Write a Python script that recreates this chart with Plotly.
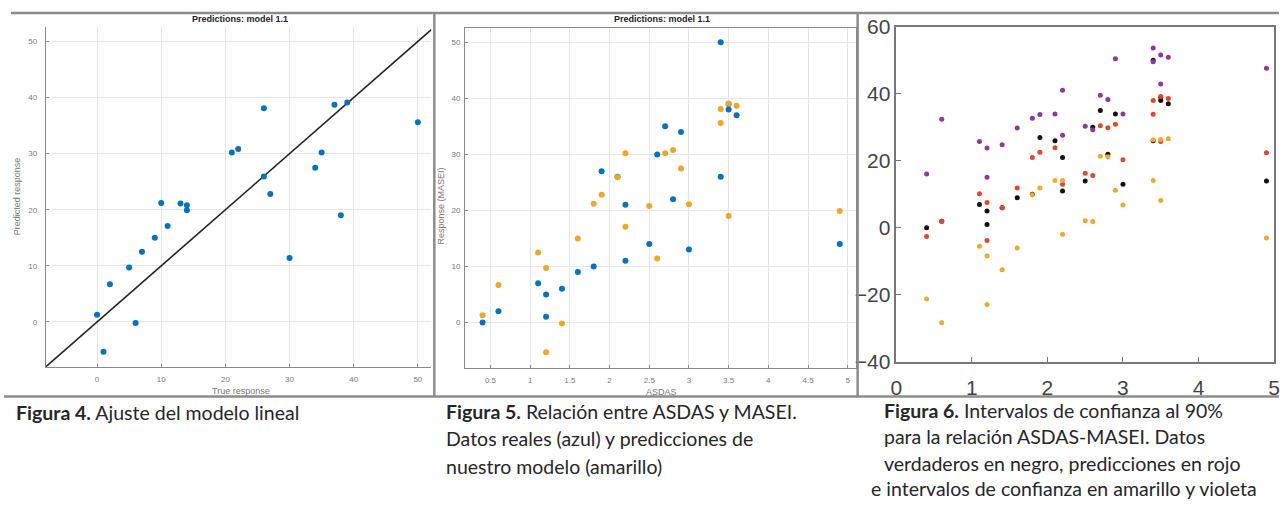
import plotly.graph_objects as go

W, H = 1283, 505

# ---------------- data ----------------
asdas = [0.4, 0.6, 1.1, 1.2, 1.2, 1.4, 1.6, 1.8, 1.9, 2.1, 2.2, 2.2,
         2.5, 2.6, 2.7, 2.8, 2.9, 3.0, 3.4, 3.4, 3.5, 3.5, 3.6, 4.9]
masei_true = [0, 2, 7, 5, 1, 6, 9, 10, 27, 26, 21, 11,
              14, 30, 35, 22, 34, 13, 50, 26, 38, 39, 37, 14]
masei_pred = [1.3, 6.7, 12.5, 9.7, -5.3, -0.2, 15.0, 21.2, 22.8, 25.9, 30.2, 17.1,
              20.8, 11.4, 30.2, 30.8, 27.5, 21.1, 35.6, 38.1, 19.0, 39.1, 38.7, 19.9]

# Figure 6: predictions (red), lower CI (yellow), upper CI (violet)
f6_pred_x = [0.4, 0.6, 1.1, 1.2, 1.2, 1.4, 1.6, 1.8, 1.9, 2.1, 2.2,
             2.5, 2.6, 2.7, 2.8, 2.9, 3.0, 3.4, 3.4, 3.5, 3.5, 3.6, 4.9]
f6_pred = [-2.6, 2.0, 10.2, 7.6, -3.8, 6.0, 11.9, 21.0, 22.6, 23.9, 13.0,
           16.3, 15.6, 30.5, 29.9, 30.9, 20.3, 38.0, 33.9, 39.2, 25.8, 38.6, 22.4]
f6_lower = [-21.2, -28.3, -5.5, -8.4, -22.9, -12.5, -6.0, 9.9, 11.9, 14.1, 14.1, -1.9,
            2.1, 1.9, 21.4, 21.2, 11.2, 6.8, 26.3, 14.1, 26.4, 8.2, 26.6, -3.0]
f6_upper = [16.1, 32.4, 25.8, 23.8, 15.1, 24.8, 29.8, 32.7, 33.8, 34.0, 41.1, 27.6,
            30.3, 29.3, 39.6, 38.3, 50.5, 34.0, 53.7, 49.6, 51.6, 42.9, 50.9, 47.6]

# tick labels
p1_ticks = [0, 10, 20, 30, 40, 50]
p2_xticks = [0.5, 1, 1.5, 2, 2.5, 3, 3.5, 4, 4.5, 5]
p2_xtext = ["0.5", "1", "1.5", "2", "2.5", "3", "3.5", "4", "4.5", "5"]
p3_xticks = [0, 1, 2, 3, 4, 5]
p3_yticks = [-40, -20, 0, 20, 40, 60]

p1_xrange = [-8, 52.1]
p1_yrange = [-8, 52.6]

BLUE = "#0a72bb"
ORANGE = "#efa62c"

# paper area as actually rendered: x 2..1281, y 8..497
PX0, PW = 2.0, 1279.0
PY0, PH = 8.0, 489.0


def fx(px):
    return (px - PX0) / PW


def fy(py):
    return 1 - (py - PY0) / PH


fig = go.Figure()

# Panel 1
fig.add_trace(go.Scatter(x=p1_xrange, y=p1_xrange, mode="lines",
                         line=dict(color="#222", width=1.6), xaxis="x", yaxis="y",
                         hoverinfo="skip", showlegend=False))
fig.add_trace(go.Scatter(x=masei_true, y=masei_pred, mode="markers",
                         marker=dict(color=BLUE, size=6), xaxis="x", yaxis="y",
                         showlegend=False))

# Panel 2
fig.add_trace(go.Scatter(x=asdas, y=masei_true, mode="markers",
                         marker=dict(color=BLUE, size=6), xaxis="x2", yaxis="y2",
                         showlegend=False))
fig.add_trace(go.Scatter(x=asdas, y=masei_pred, mode="markers",
                         marker=dict(color=ORANGE, size=6), xaxis="x2", yaxis="y2",
                         showlegend=False))

# Panel 3
fig.add_trace(go.Scatter(x=asdas, y=masei_true, mode="markers",
                         marker=dict(color="#111111", size=5), xaxis="x3", yaxis="y3",
                         showlegend=False))
fig.add_trace(go.Scatter(x=f6_pred_x, y=f6_pred, mode="markers",
                         marker=dict(color="#e2472e", size=5), xaxis="x3", yaxis="y3",
                         showlegend=False))
fig.add_trace(go.Scatter(x=asdas, y=f6_lower, mode="markers",
                         marker=dict(color="#f2a82c", size=5), xaxis="x3", yaxis="y3",
                         showlegend=False))
fig.add_trace(go.Scatter(x=asdas, y=f6_upper, mode="markers",
                         marker=dict(color="#8b3a9c", size=5), xaxis="x3", yaxis="y3",
                         showlegend=False))

small = dict(family="Liberation Sans, Arial, sans-serif", size=8, color="#777")
big = dict(family="Liberation Sans, Arial, sans-serif", size=21, color="#444")

fig.update_layout(
    width=W, height=H, margin=dict(l=0, r=0, t=0, b=0),
    paper_bgcolor="white", plot_bgcolor="white", showlegend=False,
    xaxis=dict(domain=[fx(42), fx(430)], range=p1_xrange, tickvals=p1_ticks,
               showgrid=True, gridcolor="#e6e6e6", zeroline=False,
               showline=True, linecolor="#8a8a8a", linewidth=1,
               ticks="inside", ticklen=3, tickcolor="#8a8a8a", tickfont=small,
               ticklabelstandoff=5, anchor="y", fixedrange=True),
    yaxis=dict(domain=[fy(368), fy(23)], range=p1_yrange, tickvals=p1_ticks,
               showgrid=True, gridcolor="#e6e6e6", zeroline=False,
               showline=True, linecolor="#8a8a8a", linewidth=1,
               ticks="inside", ticklen=3, tickcolor="#8a8a8a", tickfont=small,
               ticklabelstandoff=6, anchor="x", fixedrange=True),
    xaxis2=dict(domain=[fx(464), fx(857)], range=[0.18, 5.1], tickvals=p2_xticks,
                ticktext=p2_xtext,
                showgrid=True, gridcolor="#e6e6e6", zeroline=False,
                showline=True, linecolor="#8a8a8a", linewidth=1, mirror=True,
                ticks="inside", ticklen=3, tickcolor="#8a8a8a", tickfont=small,
                ticklabelstandoff=5, anchor="y2", fixedrange=True),
    yaxis2=dict(domain=[fy(369), fy(24)], range=[-8.1, 52.6], tickvals=p1_ticks,
                showgrid=True, gridcolor="#e6e6e6", zeroline=False,
                showline=True, linecolor="#8a8a8a", linewidth=1, mirror=True,
                ticks="inside", ticklen=3, tickcolor="#8a8a8a", tickfont=small,
                ticklabelstandoff=2, anchor="x2", fixedrange=True),
    xaxis3=dict(domain=[fx(898), fx(1278)], range=[0, 5], tickvals=p3_xticks,
                showgrid=False, zeroline=False,
                showline=True, linecolor="#777", linewidth=1.5, mirror=True,
                ticks="inside", ticklen=5, tickcolor="#777", tickfont=big,
                ticklabelstandoff=6, ticklabeloverflow="allow",
                anchor="y3", fixedrange=True),
    yaxis3=dict(domain=[fy(363), fy(23)], range=[-40, 60], tickvals=p3_yticks,
                showgrid=False, zeroline=False,
                showline=True, linecolor="#777", linewidth=1.5, mirror=True,
                ticks="inside", ticklen=5, tickcolor="#777", tickfont=big,
                ticklabeloverflow="allow", anchor="x3", fixedrange=True),
)

# frame / separator lines
line_style = dict(color="#8c8c8c", width=2.5)
shapes = [
    dict(type="line", xref="paper", yref="paper", x0=fx(7), x1=fx(1283), y0=fy(9), y1=fy(9), line=line_style),
    dict(type="line", xref="paper", yref="paper", x0=fx(0), x1=fx(1283), y0=fy(398), y1=fy(398), line=line_style),
    dict(type="line", xref="paper", yref="paper", x0=fx(433), x1=fx(433), y0=fy(9), y1=fy(398), line=line_style),
    dict(type="line", xref="paper", yref="paper", x0=fx(859), x1=fx(859), y0=fy(9), y1=fy(398), line=line_style),
]
fig.update_layout(shapes=shapes)

ann = []
title_font = dict(family="Liberation Sans, Arial, sans-serif", size=9, color="#222")
axis_font = dict(family="Liberation Sans, Arial, sans-serif", size=9, color="#777")
for cx, ly in [(237, 15), (662, 15)]:
    ann.append(dict(text="<b>Predictions: model 1.1</b>", x=fx(cx), y=fy(ly), xref="paper", yref="paper",
                    showarrow=False, font=title_font, xanchor="center", yanchor="middle"))
ann.append(dict(text="True response", x=fx(238), y=fy(392), xref="paper", yref="paper",
                showarrow=False, font=axis_font, xanchor="center", yanchor="middle"))
ann.append(dict(text="Predicted response", x=fx(13), y=fy(195), xref="paper", yref="paper",
                showarrow=False, font=axis_font, textangle=-90, xanchor="center", yanchor="middle"))
ann.append(dict(text="ASDAS", x=fx(662), y=fy(394), xref="paper", yref="paper",
                showarrow=False, font=axis_font, xanchor="center", yanchor="middle"))
ann.append(dict(text="Response (MASEI)", x=fx(440), y=fy(205), xref="paper", yref="paper",
                showarrow=False, font=axis_font, textangle=-90, xanchor="center", yanchor="middle"))

cap_font = dict(family="Lato, Open Sans, sans-serif", size=19.5, color="#262626")
captions = [
    (10, 414, "<b>Figura 4.</b> Ajuste del modelo lineal"),
    (443, 413, "<b>Figura 5.</b> Relación entre ASDAS y MASEI."),
    (443, 441, "Datos reales (azul) y predicciones de"),
    (443, 469, "nuestro modelo (amarillo)"),
    (884, 412, "<b>Figura 6.</b> Intervalos de confianza al 90%"),
    (884, 439, "para la relación ASDAS-MASEI. Datos"),
    (884, 466, "verdaderos en negro, predicciones en rojo"),
    (870, 491, "e intervalos de confianza en amarillo y violeta"),
]
for x0, y0, t in captions:
    ann.append(dict(text=t, x=fx(x0), y=fy(y0), xref="paper", yref="paper", showarrow=False,
                    font=cap_font, xanchor="left", yanchor="middle"))

fig.update_layout(annotations=ann)

fig.write_html("out.html", post_script="document.body.style.margin='0';")
